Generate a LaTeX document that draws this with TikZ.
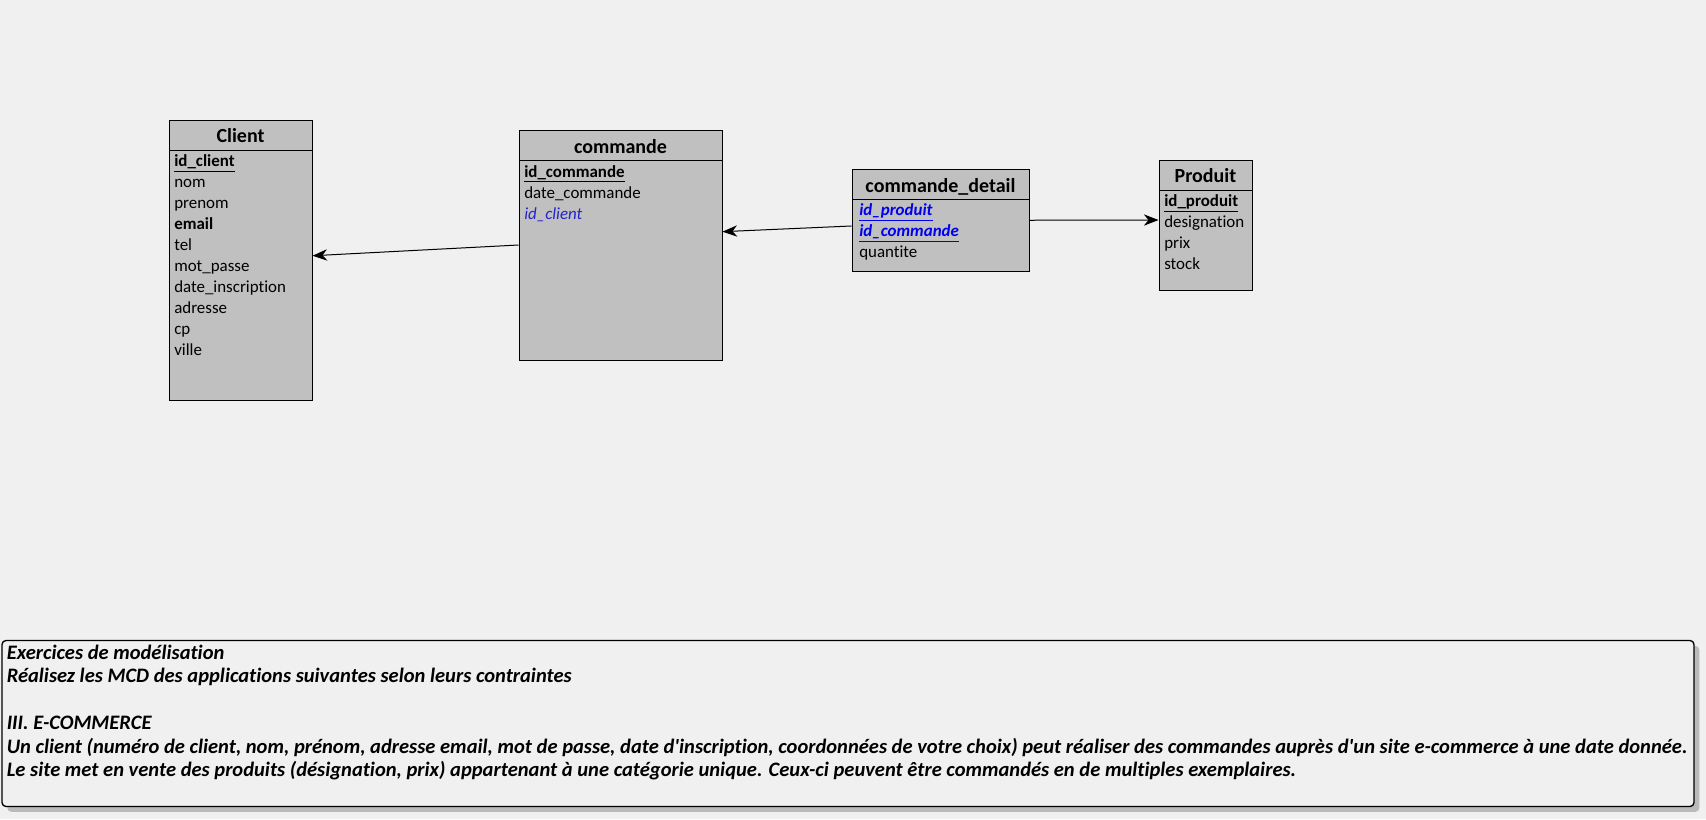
\documentclass[tikz,border=0pt]{standalone}
\usepackage{fontspec}
\setmainfont[Ligatures=NoCommon]{Carlito}
\usetikzlibrary{arrows.meta,fit,shadows}

\definecolor{canvas}{HTML}{F0F0F0}
\definecolor{tablefill}{HTML}{C0C0C0}
\definecolor{fkblue}{HTML}{2424C8}
\definecolor{pkblue}{HTML}{0000F0}
\definecolor{shadowgray}{HTML}{BABABA}

\tikzset{
  entity/.style={draw, fill=tablefill, line width=0.75pt, inner sep=0pt},
  etitle/.style={anchor=base, font=\fontsize{15}{18}\selectfont\bfseries, inner sep=0pt},
  attr/.style={anchor=base west, font=\fontsize{12.7}{15}\selectfont, inner sep=0pt},
  link/.style={line width=0.75pt, -{Stealth[length=11pt,width=8.5pt,inset=3.5pt]}},
  notebox/.style={draw, fill=canvas, line width=1pt, rounded corners=3pt, inner sep=0pt,
    drop shadow={shadow xshift=4pt, shadow yshift=-4pt, fill=shadowgray, opacity=1}},
  notetext/.style={anchor=base west, align=left, inner sep=0pt,
    font=\fontsize{15.4}{17.55}\selectfont\bfseries\itshape},
}

\begin{document}
\begin{tikzpicture}[x=0.75pt,y=-0.75pt]
  \fill[canvas] (0,0) rectangle (1706,819);
  \useasboundingbox (0,0) rectangle (1706,819);

  % Client
  \node[entity, fit={(169,120) (312,400)}] (client) {};
  \draw (169,150) -- (312,150);
  \node[etitle] (client-title) at (240.5,142.4) {Client};
  \foreach \a [count=\i from 0] in {{\underline{\textbf{id\_client}}}, nom, prenom,
      {\textbf{email}}, tel, mot\_passe, date\_inscription, adresse, cp, ville}
    \node[attr] (client-\i) at (174,166.7+21*\i) {\a};

  % commande
  \node[entity, fit={(519,130) (722,360)}] (commande) {};
  \draw (519,160) -- (722,160);
  \node[etitle] (commande-title) at (620.5,153.1) {commande};
  \foreach \a [count=\i from 0] in {{\underline{\textbf{id\_commande}}}, date\_commande,
      {\textcolor{fkblue}{\itshape id\_client}}}
    \node[attr] (commande-\i) at (524,177.3+20.9*\i) {\a};

  % commande_detail
  \node[entity, fit={(852,169.5) (1029,271)}] (detail) {};
  \draw (852,199) -- (1029,199);
  \node[etitle] (detail-title) at (940.5,192.1) {commande\_detail};
  \foreach \a [count=\i from 0] in {{\textcolor{pkblue}{\underline{\textbf{\itshape id\_produit}}}},
      {\textcolor{pkblue}{\underline{\textbf{\itshape id\_commande}}}}, quantite}
    \node[attr] (detail-\i) at (859,215.7+21*\i) {\a};

  % Produit
  \node[entity, fit={(1159,160.7) (1252,290.5)}] (produit) {};
  \draw (1159,190) -- (1252,190);
  \node[etitle] (produit-title) at (1205.5,182.1) {Produit};
  \foreach \a [count=\i from 0] in {{\underline{\textbf{id\_produit}}}, designation, prix, stock}
    \node[attr] (produit-\i) at (1164,206.7+20.9*\i) {\a};

  % liens
  \draw[link] (commande.west) -- ([yshift=3.2pt]client.east);
  \draw[link] ([yshift=-4.3pt]detail.west) -- ([yshift=10pt]commande.east);
  \draw[link] (detail.east) -- ([yshift=4.2pt]produit.west);

  % enonce (base = last line)
  \node[notebox, fit={(2,640.5) (1694,806.5)}] (note) {};
  \node[notetext] (note-text) at (6.5,776.5) {Exercices de modélisation\\
    Réalisez les MCD des applications suivantes selon leurs contraintes\\
    \mbox{}\\
    III. E-COMMERCE\\
    Un client (numéro de client, nom, prénom, adresse email, mot de passe, date d\textquotesingle inscription, coordonnées de votre choix) peut réaliser des commandes auprès d\textquotesingle un site e-commerce à une date donnée.\\
    Le site met en vente des produits (désignation, prix) appartenant à une catégorie unique. Ceux-ci peuvent être commandés en de multiples exemplaires.};
\end{tikzpicture}
\end{document}
